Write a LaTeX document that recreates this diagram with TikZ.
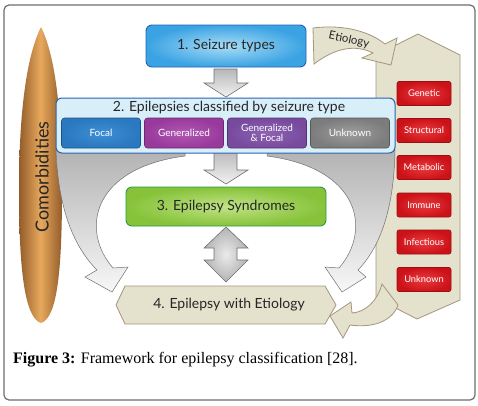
\documentclass[tikz,border=0pt]{standalone}
\usepackage{fontspec}
\setmainfont{Liberation Serif}
\newfontfamily\diag{Lato}
\usetikzlibrary{calc}
\definecolor{framec}{HTML}{6E6E6E}
\definecolor{lensdark}{HTML}{925C2B}
\definecolor{lenslight}{HTML}{E8A95C}
\definecolor{bannerfill}{HTML}{E4E1CC}
\definecolor{bannerdraw}{HTML}{A6957E}
\definecolor{b1out}{HTML}{3BA3E3}
\definecolor{b1in}{HTML}{A9DDF6}
\definecolor{b1draw}{HTML}{1F64B0}
\definecolor{b2fill}{HTML}{D8EFFA}
\definecolor{b2draw}{HTML}{2A62B2}
\definecolor{focal}{HTML}{2A78C0}
\definecolor{focalin}{HTML}{3D8FD4}
\definecolor{gen}{HTML}{983A9C}
\definecolor{genin}{HTML}{B157B3}
\definecolor{genfoc}{HTML}{774A9E}
\definecolor{genfocin}{HTML}{8D62B0}
\definecolor{unk}{HTML}{7C7C7C}
\definecolor{unkin}{HTML}{9E9E9E}
\definecolor{g3out}{HTML}{86C33A}
\definecolor{g3in}{HTML}{C2E286}
\definecolor{g3draw}{HTML}{2F9A45}
\definecolor{redout}{HTML}{CC1219}
\definecolor{redin}{HTML}{E83B3F}
\definecolor{reddraw}{HTML}{9A0E12}
\definecolor{arrdraw}{HTML}{707070}
\tikzset{
  box1/.style={draw=b1draw, line width=0.9pt, rounded corners=6pt, inner color=b1in, outer color=b1out,
    minimum width=160pt, minimum height=42pt, font=\diag\fontsize{14}{14}\selectfont, text=black!85},
  subbox/.style={draw=#1!70!black, line width=0.6pt, rounded corners=3pt, minimum width=79pt, minimum height=30pt,
    inner sep=1pt, align=center, text=white, font=\diag\fontsize{10}{10.5}\selectfont},
  box3/.style={draw=g3draw, line width=0.9pt, rounded corners=6pt, inner color=g3in, outer color=g3out,
    minimum width=200pt, minimum height=39pt, font=\diag\fontsize{14}{14}\selectfont, text=black!85},
  redbox/.style={draw=reddraw, line width=0.6pt, rounded corners=2pt, inner color=redin, outer color=redout,
    minimum width=54pt, minimum height=24pt, inner sep=0pt, text=white, font=\diag\fontsize{9.3}{9.3}\selectfont},
  greyarr/.style={draw=arrdraw, line width=0.5pt, top color=black!30, bottom color=black!3},
  blockarr/.style={draw=arrdraw, line width=0.6pt, top color=black!28, bottom color=black!5},
  tanshape/.style={draw=bannerdraw, line width=0.8pt, fill=bannerfill},
}
\begin{document}
\begin{tikzpicture}[x=1pt,y=-1pt]
\useasboundingbox (0,0) rectangle (478,405);
\fill[white] (0,0) rectangle (478,405);
\draw[framec, line width=1.2pt, rounded corners=5pt] (4,5) rectangle (475,400);

% comorbidities lens
\shade[left color=lensdark, right color=lensdark, middle color=lenslight]
  (41,27) .. controls (27,55) and (19,110) .. (19,190) .. controls (19,265) and (24,318) .. (41,323)
  .. controls (58,318) and (62,265) .. (62,190) .. controls (62,110) and (55,55) .. (41,27) -- cycle;
\node[rotate=90, font=\diag\fontsize{18}{18}\selectfont, text=black!85] (com) at (42,177) {Comorbidities};

% etiology banner
\path[tanshape] (376,55) -- (418,34) -- (460,55) -- (460,300) -- (417,319) -- (376,298) -- cycle;
% etiology arrow
\path[tanshape] (313,28) .. controls (345,24) and (370,32) .. (385,44) -- (397,38) -- (391,65) -- (362,58)
  -- (373,53) .. controls (355,44) and (335,48) .. (314,64) -- cycle;
\node[rotate=-12, font=\diag\fontsize{11.5}{11.5}\selectfont, text=black!85] (eti) at (349,40) {Etiology};

% 1. seizure types
\node[box1] (b1) at (226,46) {1. Seizure types};

% grey curved arrows
\path[greyarr] (56,150) .. controls (58,205) and (72,245) .. (97,270) -- (85,277) -- (112,292) -- (128,267)
  -- (113,268) .. controls (80,230) and (92,168) .. (185,156) -- (185,150) -- cycle;
\path[greyarr] (395,150) .. controls (394,205) and (382,245) .. (358,270) -- (366,277) -- (342,292) -- (325,267)
  -- (339,268) .. controls (372,230) and (360,168) .. (267,156) -- (267,150) -- cycle;

% straight block arrows
\path[blockarr] (214,69) -- (237,69) -- (237,83) -- (248,83) -- (226,97) -- (204,83) -- (214,83) -- cycle;
\path[blockarr] (214,150) -- (237,150) -- (237,170) -- (248,170) -- (226,184) -- (204,170) -- (214,170) -- cycle;

% 2. epilepsies classified
\node[draw=b2draw, line width=1pt, rounded corners=6pt, fill=b2fill, minimum width=339pt, minimum height=55pt] (b2) at (225.5,125.5) {};
\node[font=\diag\fontsize{14}{14}\selectfont, text=black!85] (b2t) at (229,108) {2. Epilepsies classified by seizure type};
\node[subbox=focal, inner color=focalin, outer color=focal] (focal) at (101,133) {Focal};
\node[subbox=gen, inner color=genin, outer color=gen] (gen) at (184,133) {Generalized};
\node[subbox=genfoc, inner color=genfocin, outer color=genfoc] (genfoc) at (267,133) {Generalized\\\& Focal};
\node[subbox=unk, inner color=unkin, outer color=unk] (unk) at (350,133) {Unknown};

% 3. syndromes
\node[box3] (b3) at (226,206.5) {3. Epilepsy Syndromes};

% double arrow
\path[draw=arrdraw, line width=0.6pt, inner color=black!8, outer color=black!30]
  (226,227) -- (248,248) -- (237,248) -- (237,260) -- (248,260) -- (226,282) -- (204,260) -- (214,260)
  -- (214,248) -- (204,248) -- cycle;

% 4. epilepsy with etiology
\path[tanshape] (116,305) -- (125,286) -- (325,286) -- (336,305) -- (325,324) -- (125,324) -- cycle;
\node[font=\diag\fontsize{14}{14}\selectfont, text=black!85] (b4) at (229,305) {4. Epilepsy with Etiology};

% arrow from banner to 4
\path[tanshape] (382,284) -- (398,305) .. controls (392,322) and (372,328) .. (350,325) -- (343,338) -- (330,316)
  -- (351,302) -- (352,313) .. controls (365,312) and (377,302) .. (382,284) -- cycle;

% etiology categories
\node[redbox] (e1) at (424,93.5) {Genetic};
\node[redbox] (e2) at (424,130.5) {Structural};
\node[redbox] (e3) at (424,167.5) {Metabolic};
\node[redbox] (e4) at (424,205) {Immune};
\node[redbox] (e5) at (424,242) {Infectious};
\node[redbox] (e6) at (424,279.5) {Unknown};

% caption
\node[anchor=base west, inner sep=0pt, font=\fontsize{16}{16}\selectfont] (cap) at (13,363)
  {\textbf{Figure 3:} Framework for epilepsy classification [28].};
\end{tikzpicture}
\end{document}
